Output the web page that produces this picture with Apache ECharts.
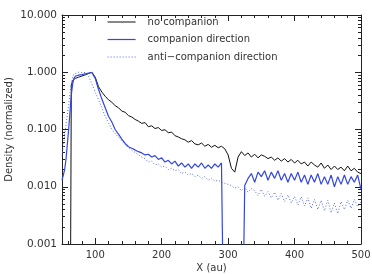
<!DOCTYPE html>
<html>
<head>
<meta charset="utf-8">
<script src="https://cdn.jsdelivr.net/npm/echarts@6/dist/echarts.min.js"></script>
<style>
  html, body { margin: 0; padding: 0; background: #fff; }
  #chart { width: 372px; height: 274px; }
</style>
</head>
<body>
<div id="chart"></div>
<script>
// x positions (au)
var xs = [50, 52, 54, 56, 58, 60, 62, 64, 66, 68,
  70, 75, 80, 85, 90, 95, 100, 105, 110, 115, 120, 125, 130, 135, 140, 145,
  150, 155, 160, 165, 170, 175, 180, 185, 190, 195, 200, 205, 210, 215, 220, 225, 230, 235, 240, 245,
  250, 255, 260, 265, 270, 275, 280, 285, 290, 295, 300, 305, 310, 315, 320, 325, 330, 335, 340, 345,
  350, 355, 360, 365, 370, 375, 380, 385, 390, 395, 400, 405, 410, 415, 420, 425, 430, 435, 440, 445,
  450, 455, 460, 465, 470, 475, 480, 485, 490, 495, 500]

// no companion (0 density shown as 1e-6, below the axis)
var noComp = [0.000001, 0.000001, 0.000001, 0.000001, 0.000001, 0.000001, 0.000001, 0.6, 0.72, 0.76,
  0.78, 0.82, 0.86, 0.9, 0.95, 1.0, 0.82, 0.56, 0.45, 0.38, 0.33, 0.3, 0.26, 0.24, 0.21, 0.2,
  0.175, 0.165, 0.15, 0.14, 0.128, 0.132, 0.112, 0.116, 0.104, 0.108, 0.096, 0.099, 0.088, 0.09, 0.078, 0.074, 0.069, 0.066, 0.06, 0.064,
  0.056, 0.054, 0.058, 0.051, 0.055, 0.049, 0.053, 0.048, 0.051, 0.046, 0.036, 0.021, 0.018, 0.033, 0.041, 0.035, 0.039, 0.033, 0.037, 0.032,
  0.036, 0.034, 0.031, 0.033, 0.029, 0.032, 0.028, 0.031, 0.027, 0.03, 0.026, 0.029, 0.025, 0.027, 0.023, 0.027, 0.024, 0.022, 0.026, 0.021,
  0.024, 0.02, 0.023, 0.02, 0.022, 0.019, 0.023, 0.019, 0.021, 0.018, 0.017]

// companion direction
var compDir = [0.013, 0.016, 0.02, 0.03, 0.055, 0.1, 0.2, 0.4, 0.62, 0.78,
  0.85, 0.89, 0.91, 0.94, 0.97, 0.99, 0.78, 0.5, 0.34, 0.24, 0.17, 0.135, 0.1, 0.083, 0.068, 0.057,
  0.05, 0.047, 0.044, 0.041, 0.039, 0.036, 0.037, 0.033, 0.035, 0.03, 0.032, 0.027, 0.029, 0.025, 0.028, 0.023, 0.026, 0.022, 0.025, 0.021,
  0.025, 0.022, 0.026, 0.021, 0.024, 0.021, 0.025, 0.022, 0.026, 0.000001, 0.000001, 0.000001, 0.000001, 0.000001, 0.000001, 0.0105, 0.014, 0.017, 0.012, 0.018,
  0.015, 0.019, 0.013, 0.018, 0.014, 0.019, 0.013, 0.017, 0.012, 0.017, 0.013, 0.018, 0.012, 0.016, 0.011, 0.016, 0.012, 0.017, 0.011, 0.015,
  0.011, 0.016, 0.01, 0.015, 0.011, 0.016, 0.011, 0.015, 0.012, 0.016, 0.009]

// anti-companion direction
var antiDir = [0.035, 0.05, 0.08, 0.12, 0.18, 0.27, 0.42, 0.62, 0.82, 0.93,
  0.98, 1.0, 0.98, 0.99, 0.85, 0.62, 0.45, 0.33, 0.24, 0.17, 0.13, 0.1, 0.085, 0.073, 0.063, 0.055,
  0.048, 0.043, 0.04, 0.036, 0.033, 0.031, 0.027, 0.028, 0.024, 0.025, 0.022, 0.023, 0.02, 0.021, 0.019, 0.02, 0.017, 0.018, 0.016, 0.017,
  0.015, 0.016, 0.014, 0.015, 0.013, 0.014, 0.0125, 0.013, 0.012, 0.0115, 0.011, 0.0105, 0.0095, 0.01, 0.0085, 0.0098, 0.008, 0.0093, 0.0085, 0.007,
  0.009, 0.0068, 0.0082, 0.0064, 0.008, 0.0058, 0.0076, 0.0055, 0.0072, 0.0052, 0.0068, 0.0048, 0.0067, 0.0046, 0.0064, 0.0042, 0.006, 0.004, 0.0058, 0.0038,
  0.0058, 0.0035, 0.0052, 0.0034, 0.0055, 0.004, 0.0058, 0.0042, 0.006, 0.0045, 0.0055]

var seriesNames = ['no companion', 'companion direction', 'anti\u2212companion direction']
var colors = ['#111', '#3346e0', '#5566e8']

function pairs(vals) {
  return xs.map(function (x, i) { return [x, vals[i]] })
}

var axisColor = '#222'
var textColor = '#333'
var font = 'DejaVu Sans'

var myChart = echarts.init(document.getElementById('chart'), null, { renderer: 'canvas' })

var option = {
  animation: false,
  textStyle: { fontFamily: font },
  grid: { left: 62, right: 11, top: 15, bottom: 30, outerBoundsMode: 'none' },
  legend: {
    orient: 'vertical',
    left: 107,
    top: 17,
    padding: 0,
    itemWidth: 28,
    itemHeight: 8,
    itemGap: 7.5,
    itemStyle: { opacity: 0 },
    data: [
      { name: seriesNames[0], lineStyle: { color: colors[0], width: 1 } },
      { name: seriesNames[1], lineStyle: { color: colors[1], width: 1.2 } },
      { name: seriesNames[2], lineStyle: { color: colors[2], width: 1, type: [1, 2] } }
    ],
    textStyle: { fontSize: 10, color: textColor, fontFamily: font, padding: [0, 0, 0, 7] }
  },
  xAxis: [{
    type: 'value',
    min: 50,
    max: 500,
    name: 'X (au)',
    nameLocation: 'middle',
    nameGap: 19,
    nameMoveOverlap: false,
    nameTextStyle: { fontSize: 10, color: textColor },
    axisLine: { lineStyle: { color: axisColor } },
    axisTick: { inside: true, length: 6, lineStyle: { color: axisColor } },
    minorTick: { show: true, splitNumber: 5, length: 3, lineStyle: { color: axisColor } },
    axisLabel: { fontSize: 10, color: textColor, margin: 6, showMinLabel: false },
    splitLine: { show: false }
  }, {
    type: 'value',
    position: 'top',
    min: 50,
    max: 500,
    axisLine: { lineStyle: { color: axisColor } },
    axisTick: { inside: true, length: 6, lineStyle: { color: axisColor } },
    minorTick: { show: true, splitNumber: 5, length: 3, lineStyle: { color: axisColor } },
    axisLabel: { show: false },
    splitLine: { show: false }
  }],
  yAxis: [{
    type: 'log',
    min: 0.001,
    max: 10,
    name: 'Density (normalized)',
    nameLocation: 'middle',
    nameGap: 48,
    nameMoveOverlap: false,
    nameTextStyle: { fontSize: 10, color: textColor },
    axisLine: { show: true, lineStyle: { color: axisColor } },
    axisTick: { show: true, inside: true, length: 6, lineStyle: { color: axisColor } },
    minorTick: { show: true, splitNumber: 9, length: 3, lineStyle: { color: axisColor } },
    axisLabel: {
      fontSize: 10.5,
      color: textColor,
      margin: 5,
      formatter: function (v) { return v.toFixed(3) }
    },
    splitLine: { show: false }
  }, {
    type: 'log',
    position: 'right',
    min: 0.001,
    max: 10,
    axisLine: { show: true, lineStyle: { color: axisColor } },
    axisTick: { show: true, inside: true, length: 6, lineStyle: { color: axisColor } },
    minorTick: { show: true, splitNumber: 9, length: 3, lineStyle: { color: axisColor } },
    axisLabel: { show: false },
    splitLine: { show: false }
  }],
  series: [{
    name: seriesNames[0],
    type: 'line',
    data: pairs(noComp),
    symbol: 'none',
    clip: true,
    lineStyle: { color: colors[0], width: 1 },
    itemStyle: { color: colors[0] }
  }, {
    name: seriesNames[1],
    type: 'line',
    data: pairs(compDir),
    symbol: 'none',
    clip: true,
    lineStyle: { color: colors[1], width: 1.2 },
    itemStyle: { color: colors[1] }
  }, {
    name: seriesNames[2],
    type: 'line',
    data: pairs(antiDir),
    symbol: 'none',
    clip: true,
    lineStyle: { color: colors[2], width: 1, type: [1, 2] },
    itemStyle: { color: colors[2] }
  }]
}

myChart.setOption(option)
</script>
</body>
</html>
